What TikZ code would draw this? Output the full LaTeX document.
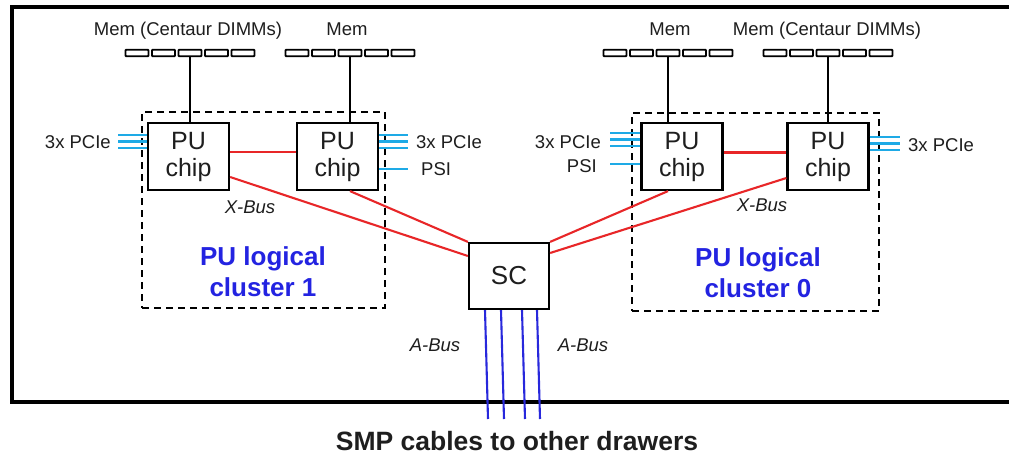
\documentclass[tikz,border=0pt]{standalone}
\usepackage{fontspec}
\setmainfont{Liberation Sans}
\definecolor{busred}{RGB}{232,38,40}
\definecolor{pcie}{RGB}{30,170,230}
\definecolor{clblue}{RGB}{35,35,225}
\definecolor{abus}{RGB}{40,40,220}
\definecolor{txt}{RGB}{30,30,30}
\begin{document}
\begin{tikzpicture}[x=1pt,y=-1pt,
  frame/.style={line width=3.8pt},
  chipbox/.style={draw, line width=2.2pt, minimum width=81pt, minimum height=67pt, inner sep=0pt, align=center, font=\fontsize{25}{27}\selectfont, text=txt},
  scbox/.style={draw, line width=2.2pt, minimum width=80pt, minimum height=66pt, inner sep=0pt, font=\fontsize{26}{28}\selectfont, text=txt},
  dimm/.style={draw, line width=1.9pt, minimum width=23pt, minimum height=6.5pt, inner sep=0pt, rounded corners=0.8pt},
  cluster/.style={draw, line width=2pt, dash pattern=on 7pt off 5pt, inner sep=0pt},
  memline/.style={line width=2.1pt},
  xbus/.style={draw=busred, line width=2.1pt},
  pcieline/.style={draw=pcie, line width=2.2pt},
  abusline/.style={draw=abus, line width=2.1pt},
  lbl/.style={inner sep=0pt, text=txt, font=\fontsize{18.5}{22}\selectfont},
  ilbl/.style={inner sep=0pt, text=txt, font=\fontsize{18.5}{22}\selectfont\itshape},
  cltext/.style={inner sep=0pt, text=clblue, align=center, font=\fontsize{26}{31}\selectfont\bfseries},
]
\useasboundingbox (0,0) rectangle (1009,458);
\fill[white] (0,0) rectangle (1009,458);
% outer drawer frame (open to the right, cropped)
\draw[frame] (1020,7) -- (12,7) -- (12,402) -- (1020,402);

% dashed logical clusters
\node[cluster, minimum width=243pt, minimum height=196pt] (cl1) at (263.5,210) {};
\node[cluster, minimum width=247pt, minimum height=198pt] (cl0) at (755.5,212) {};
\node[cltext] (cl1t) at (263,272) {PU logical\\cluster 1};
\node[cltext] (cl0t) at (758,273) {PU logical\\cluster 0};

% PU chips and SC
\node[chipbox] (chip1) at (188.5,156.5) {PU\\chip};
\node[chipbox] (chip2) at (337.5,156.5) {PU\\chip};
\node[chipbox] (chip3) at (682,156.5) {PU\\chip};
\node[chipbox] (chip4) at (828,156.5) {PU\\chip};
\node[scbox] (sc) at (509,276) {SC};

% DIMM rows
\foreach \i in {1,...,5} {
  \node[dimm] (dA\i) at ({190+(\i-3)*26.5},53) {};
  \node[dimm] (dB\i) at ({350+(\i-3)*26.5},53) {};
  \node[dimm] (dC\i) at ({668+(\i-3)*26.5},53) {};
  \node[dimm] (dD\i) at ({828+(\i-3)*26.5},53) {};
}
\node[lbl] (mA) at (188,31) {Mem (Centaur DIMMs)};
\node[lbl] (mB) at (347,29) {Mem};
\node[lbl] (mC) at (670,29) {Mem};
\node[lbl] (mD) at (827,31) {Mem (Centaur DIMMs)};

% memory links
\draw[memline] (dA3.south) -- (dA3.south |- chip1.north);
\draw[memline] (dB3.south) -- (dB3.south |- chip2.north);
\draw[memline] (dC3.south) -- (dC3.south |- chip3.north);
\draw[memline] (dD3.south) -- (dD3.south |- chip4.north);

% X-Bus links
\draw[xbus] ([yshift=4.5pt]chip1.east) -- ([yshift=4.5pt]chip2.west);
\draw[xbus] ([yshift=4pt]chip3.east) -- ([yshift=4pt]chip4.west);
\draw[xbus] ([yshift=-20.5pt]chip1.east) -- ([yshift=20pt]sc.west);
\draw[xbus] ([xshift=12.5pt]chip2.south) -- (sc.north west);
\draw[xbus] ([xshift=-14pt]chip3.south) -- (sc.north east);
\draw[xbus] ([yshift=-21.5pt]chip4.west) -- ([yshift=23pt]sc.east);
\node[ilbl] (xb1) at (250,207) {X-Bus};
\node[ilbl] (xb0) at (762,205) {X-Bus};

% PCIe / PSI
\coordinate (p1a) at (118,135); \coordinate (p1b) at (118,141.5); \coordinate (p1c) at (118,148);
\coordinate (p2a) at (408,135); \coordinate (p2b) at (408,141.5); \coordinate (p2c) at (408,148);
\coordinate (s2) at (408,169);
\coordinate (p3a) at (610,133); \coordinate (p3b) at (610,139.5); \coordinate (p3c) at (610,146);
\coordinate (s3) at (610,164);
\coordinate (p4a) at (900,137); \coordinate (p4b) at (900,143.5); \coordinate (p4c) at (900,150);
\foreach \p in {p1a,p1b,p1c} \draw[pcieline] (\p) -- (\p -| chip1.west);
\foreach \p in {p2a,p2b,p2c,s2} \draw[pcieline] (\p -| chip2.east) -- (\p);
\foreach \p in {p3a,p3b,p3c,s3} \draw[pcieline] (\p) -- (\p -| chip3.west);
\foreach \p in {p4a,p4b,p4c} \draw[pcieline] (\p -| chip4.east) -- (\p);
\node[lbl, anchor=east] (l1) at (111,142) {3x PCIe};
\node[lbl, anchor=west] (l2) at (416,142) {3x PCIe};
\node[lbl, anchor=west] (l2s) at (421,169) {PSI};
\node[lbl, anchor=east] (l3) at (601,142) {3x PCIe};
\node[lbl, anchor=east] (l3s) at (597,166) {PSI};
\node[lbl, anchor=west] (l4) at (908,145) {3x PCIe};

% A-Bus
\coordinate (a1) at (488,419); \coordinate (a2) at (504,419);
\coordinate (a3) at (525,419); \coordinate (a4) at (540,419);
\draw[abusline] ([xshift=-24pt]sc.south) -- (a1);
\draw[abusline] ([xshift=-8pt]sc.south) -- (a2);
\draw[abusline] ([xshift=13pt]sc.south) -- (a3);
\draw[abusline] ([xshift=28pt]sc.south) -- (a4);
\node[ilbl] (ab1) at (435,345) {A-Bus};
\node[ilbl] (ab2) at (583,345) {A-Bus};

\node[inner sep=0pt, text=txt, font=\fontsize{26.5}{30}\selectfont\bfseries] (smp) at (517,441) {SMP cables to other drawers};
\end{tikzpicture}
\end{document}
